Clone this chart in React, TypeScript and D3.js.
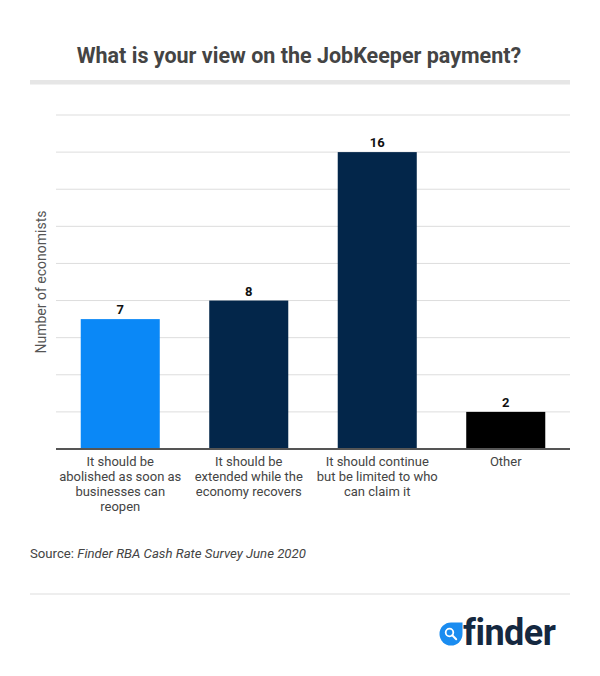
import React from "react";
import * as d3 from "d3";

const categories = [
  "It should be abolished as soon as businesses can reopen",
  "It should be extended while the economy recovers",
  "It should continue but be limited to who can claim it",
  "Other",
];
const categoryLines = [
  ["It should be", "abolished as soon as", "businesses can", "reopen"],
  ["It should be", "extended while the", "economy recovers"],
  ["It should continue", "but be limited to who", "can claim it"],
  ["Other"],
];
const values = [7, 8, 16, 2];
const barColors = ["#0a88f7", "#03264a", "#03264a", "#000000"];
const yTicks = [0, 2, 4, 6, 8, 10, 12, 14, 16, 18];

const W = 600;
const H = 676;
const FONT = "Roboto, 'Noto Sans', sans-serif";

export default function App() {
  const left = 56;
  const right = 570;
  const top = 115;
  const bottom = 449;

  const x = d3
    .scaleBand<string>()
    .domain(categories)
    .range([left, right])
    .paddingInner(0.385)
    .paddingOuter(0.1925);
  const y = d3.scaleLinear().domain([0, 18]).range([bottom, top]);

  const cx = 451;
  const cy = 634;
  const r = 11.5;
  const dropPath = `M${cx},${cy - r} L${cx + r},${cy - r} L${cx + r},${cy} A${r},${r} 0 1 1 ${cx},${cy - r} Z`;

  return (
    <svg
      width={W}
      height={H}
      viewBox={`0 0 ${W} ${H}`}
      style={{ position: "absolute", left: 0, top: 0, background: "#fff" }}
      fontFamily={FONT}
    >
      <rect x={0} y={0} width={W} height={H} fill="#ffffff" />
      <text
        x={299}
        y={63}
        textAnchor="middle"
        fontSize={21.5}
        fontWeight={700}
        fill="#444444"
      >
        What is your view on the JobKeeper payment?
      </text>
      <rect x={30} y={80} width={540} height={4.5} fill="#e6e6e6" />

      {yTicks
        .filter((t) => t > 0)
        .map((t) => (
          <line
            key={t}
            x1={left}
            x2={right}
            y1={y(t)}
            y2={y(t)}
            stroke="#dddddd"
            strokeWidth={1}
          />
        ))}

      <text
        transform={`translate(46, 282) rotate(-90)`}
        textAnchor="middle"
        fontSize={14}
        fill="#555555"
      >
        Number of economists
      </text>

      {categories.map((c, i) => (
        <g key={c}>
          <rect
            x={x(c)!}
            y={y(values[i])}
            width={x.bandwidth()}
            height={y(0) - y(values[i])}
            fill={barColors[i]}
          />
          <text
            x={x(c)! + x.bandwidth() / 2}
            y={y(values[i]) - 5}
            textAnchor="middle"
            fontSize={13}
            fontWeight={700}
            fill="#111111"
          >
            {values[i]}
          </text>
          {categoryLines[i].map((ln, j) => (
            <text
              key={j}
              x={x(c)! + x.bandwidth() / 2}
              y={466 + j * 15}
              textAnchor="middle"
              fontSize={13}
              fill="#444444"
            >
              {ln}
            </text>
          ))}
        </g>
      ))}

      <line
        x1={left}
        x2={right}
        y1={bottom}
        y2={bottom}
        stroke="#555555"
        strokeWidth={2}
      />

      <text x={30} y={558} fontSize={13.2} fill="#444444">
        Source: <tspan fontStyle="italic">Finder RBA Cash Rate Survey June 2020</tspan>
      </text>
      <line x1={30} x2={570} y1={594} y2={594} stroke="#dddddd" strokeWidth={1} />

      <path d={dropPath} fill="#1a8cf0" />
      <circle cx={cx - 1.5} cy={cy - 1.5} r={3.8} fill="none" stroke="#ffffff" strokeWidth={1.8} />
      <line x1={cx + 1.3} y1={cy + 1.3} x2={cx + 5.2} y2={cy + 5.2} stroke="#ffffff" strokeWidth={2} strokeLinecap="round" />
      <text
        x={463}
        y={645}
        fontSize={36}
        fontWeight={700}
        fill="#152840"
        letterSpacing={-0.5}
      >
        finder
      </text>
    </svg>
  );
}
